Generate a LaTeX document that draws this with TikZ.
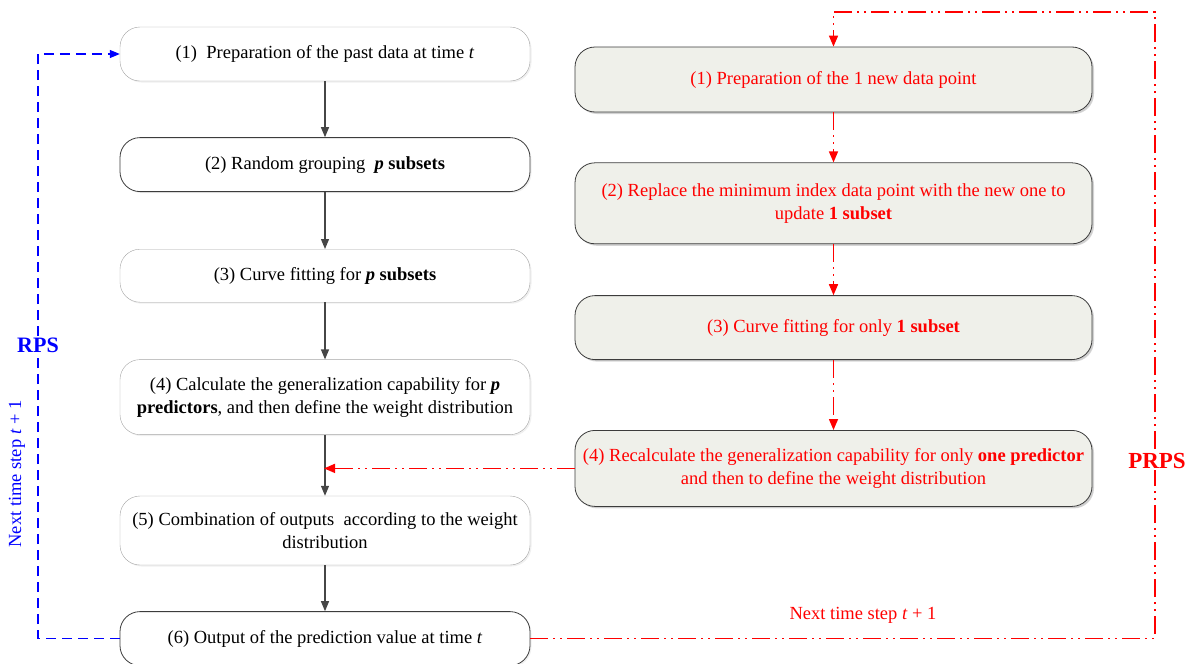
\documentclass[tikz,border=0pt]{standalone}
\usepackage{fontspec}
\setmainfont{Liberation Serif}
\usetikzlibrary{arrows.meta,positioning,shadows}
\definecolor{boxfill}{RGB}{239,240,234}
\definecolor{lightedge}{RGB}{165,165,165}
\definecolor{darkedge}{RGB}{60,60,60}
\definecolor{arrowgray}{RGB}{70,70,70}

\begin{document}
\begin{tikzpicture}[
    x=1pt, y=-1pt,
    node distance=56pt,
    leftbox/.style={rectangle, draw=lightedge, rounded corners=20pt, minimum width=410pt, minimum height=54pt, fill=white, font=\fontsize{18.5}{23}\selectfont, align=center, inner xsep=3pt, drop shadow={opacity=0.12, shadow xshift=1.5pt, shadow yshift=-1.5pt}},
    darkbox/.style={leftbox, draw=darkedge, line width=0.8pt},
    rightbox/.style={leftbox, draw=darkedge, line width=0.8pt, fill=boxfill, minimum width=517pt, text=red, drop shadow={opacity=0.3, shadow xshift=2pt, shadow yshift=-2pt}},
    flow/.style={-{Triangle[length=10pt, width=8pt]}, draw=arrowgray, line width=1.2pt},
    update/.style={-{Triangle[length=11pt, width=9pt]}, red, line width=1.5pt, dash pattern=on 18pt off 5pt on 2pt off 5pt on 2pt off 5pt},
    loop/.style={-{Triangle[length=10pt, width=8pt]}, blue, line width=1.2pt, dash pattern=on 10pt off 6pt},
    tag/.style={font=\fontsize{22}{22}\selectfont\bfseries, fill=white, inner sep=1pt},
    steptext/.style={font=\fontsize{18.5}{18.5}\selectfont}
]
\useasboundingbox (0,0) rectangle (1187,664);

% RPS column
\node[leftbox] (b1) at (325,54) {(1)\ \ Preparation of the past data at time \textit{t}};
\node[darkbox, below=56pt of b1] (b2) {(2) Random grouping\ \ \textbf{\textit{p}} \textbf{subsets}};
\node[leftbox, below=57pt of b2, minimum height=53pt] (b3) {(3) Curve fitting for \textbf{\textit{p}} \textbf{subsets}};
\node[leftbox, below=57pt of b3, minimum height=75pt] (b4) {(4) Calculate the generalization capability for \textbf{\textit{p}}\\\textbf{predictors}, and then define the weight distribution};
\node[leftbox, below=61pt of b4, minimum height=69pt] (b5) {(5) Combination of outputs\ \ according to the weight\\distribution};
\node[darkbox, below=46pt of b5] (b6) {(6) Output of the prediction value at time \textit{t}};

% PRPS column
\node[rightbox, minimum height=65pt] (r1) at (833.5,79.5) {(1) Preparation of the 1 new data point};
\node[rightbox, below=50pt of r1, minimum height=81pt] (r2) {(2) Replace the minimum index data point with the new one to\\update \textbf{1 subset}};
\node[rightbox, below=51pt of r2, minimum height=64pt] (r3) {(3) Curve fitting for only \textbf{1 subset}};
\node[rightbox, below=70pt of r3, minimum height=76pt] (r4) {(4) Recalculate the generalization capability for only \textbf{one predictor}\\and then to define the weight distribution};

% corners of the loops
\coordinate (bluecorner) at (38,54);
\coordinate (redcorner) at (1155,12);

% Arrows
\draw[flow] (b1) -- (b2);
\draw[flow] (b2) -- (b3);
\draw[flow] (b3) -- (b4);
\draw[flow] (b4) -- (b5);
\draw[flow] (b5) -- (b6);
\draw[update] (r1) -- (r2);
\draw[update] (r2) -- (r3);
\draw[update] (r3) -- (r4);
\draw[update, shorten >=-1pt] (r4.west) -- (r4.west -| b4.south);
\draw[update] (b6.east) -- (b6.east -| redcorner) -- (redcorner) -- (redcorner -| r1.north) -- (r1.north);
\draw[loop] (b6.west) -- (b6.west -| bluecorner) -- (bluecorner) -- (b1.west);

% Labels
\node[tag, text=blue] (rps) at (38,345) {RPS};
\node[tag, text=red, font=\fontsize{23}{23}\selectfont\bfseries] (prps) at (1157,461) {PRPS};
\node[steptext, text=blue, rotate=90] (bluestep) at (17,474) {Next time step \textit{t} + 1};
\node[steptext, text=red] (redstep) at (863,615) {Next time step \textit{t} + 1};

\end{tikzpicture}
\end{document}
